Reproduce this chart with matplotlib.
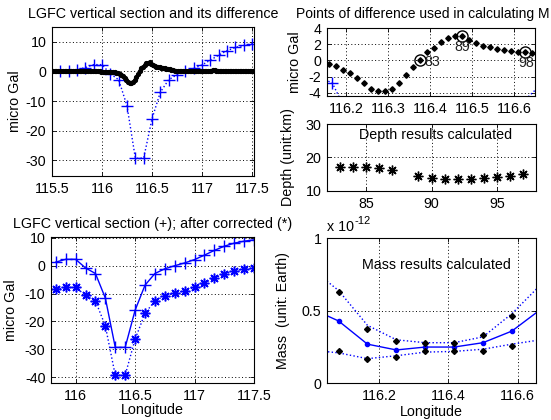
import matplotlib
matplotlib.use("Agg")
import matplotlib.pyplot as plt
import numpy as np
from matplotlib.ticker import FormatStrFormatter

plt.rcParams["font.family"] = ["Liberation Sans", "DejaVu Sans"]
plt.rcParams["font.size"] = 10.3
plt.rcParams["axes.unicode_minus"] = False

# ---- data ----
# gravity section (+), sampled every 5' starting at 115.5833
plus_lon = 115.5 + np.arange(1, 25) / 12
plus_vals = [0.0, 0.1, 0.6, 1.3, 2.3, 2.3, -0.8, -2.8, -11.6, -29.3, -29.3, -16.0,
             -7.0, -2.8, -1.1, 0.0, 1.0, 2.2, 3.8, 5.5, 7.0, 8.1, 8.8, 9.3]
# corrected section (*), from 115.8333 on
star_vals = [-8.4, -7.8, -7.8, -10.6, -12.6, -21.6, -39.3, -39.3, -26.4, -17.1, -12.6,
             -10.8, -9.8, -9.0, -7.8, -6.2, -4.4, -3.0, -1.8, -1.2, -0.8]

# difference, point numbers 30..151 (1' spacing)
diff_idx = np.arange(30, 152)
diff_vals = [0.0, 0.0, 0.0, 0.0, 0.0, 0.0, 0.0, 0.0, 0.0, 0.0,
             0.0, 0.0, 0.0, 0.0, 0.0, 0.0, 0.0, 0.0, 0.0, 0.0,
             0.0, 0.0, 0.0, 0.0, 0.0, 0.0, 0.0, 0.0, 0.0, 0.0,
             -0.05, -0.1, -0.15, -0.2, -0.25, -0.3, -0.3, -0.35, -0.35, -0.4,
             -0.43, -0.72, -1.13, -1.62, -2.15, -2.77, -3.5, -3.8, -3.8, -3.5,
             -2.77, -1.86, -0.84, 0.1, 1.0, 1.54, 2.27, 2.77, 2.97, 3.05,
             2.48, 2.15, 1.82, 1.66, 1.45, 1.33, 1.13, 1.0, 1.0, 0.92,
             0.8, 0.7, 0.55, 0.4, 0.25, 0.15, 0.1, 0.05, 0.0, 0.0,
             0.0, 0.0, 0.0, 0.0, 0.0, 0.0, 0.0, 0.0, 0.0, 0.0,
             0.0, 0.0, 0.0, 0.0, 0.1, 0.2, 0.3, 0.35, 0.35, 0.3,
             0.2, 0.1, 0.0, 0.0, 0.0, 0.0, 0.0, 0.0, 0.0, 0.0,
             0.0, 0.0, 0.0, 0.0, 0.0, 0.0, 0.0, 0.0, 0.0, 0.0,
             0.0, 0.0]
used_idx = [83, 89, 98]

# depth results
depth_idx = [83, 84, 85, 86, 87, 89, 90, 91, 92, 93, 94, 95, 96, 97]
depth_vals = [17.1, 17.1, 17.1, 16.9, 16.2, 14.6, 13.9, 13.7, 13.7, 13.7, 13.9, 14.3, 14.6, 15.0]

# mass results (x 1e-12 Earth)
mass_lon = 116.0 + np.arange(0, 9) / 12
mass_mid = [0.52, 0.43, 0.27, 0.23, 0.25, 0.25, 0.28, 0.36, 0.51]
mass_hi_curve = [0.80, 0.64, 0.40, 0.30, 0.28, 0.28, 0.32, 0.48, 0.68]
mass_lo_curve = [0.23, 0.21, 0.17, 0.19, 0.215, 0.22, 0.235, 0.27, 0.30]
mass_hi_pts = [0.63, 0.375, 0.29, 0.28, 0.28, 0.33, 0.465]
mass_lo_pts = [0.22, 0.165, 0.18, 0.22, 0.22, 0.22, 0.26]

diff_lon = 115 + (diff_idx - 0.5) / 60
diff_map = dict(zip(diff_idx, diff_vals))
ASTER = (8, 2, 0)


def matlab_axes(ax):
    ax.tick_params(direction="in", top=True, right=True, length=3, width=0.6, pad=4)
    for s in ax.spines.values():
        s.set_linewidth(0.8)
    ax.grid(True, color="k", linestyle=(0, (1, 2.5)), linewidth=0.7)
    ax.xaxis.set_major_formatter(FormatStrFormatter("%g"))
    ax.yaxis.set_major_formatter(FormatStrFormatter("%g"))


fig = plt.figure(figsize=(5.51, 4.2), dpi=100)
W, H = 551, 420


def add_ax(l, t, r, b):
    return fig.add_axes([l / W, 1 - b / H, (r - l) / W, (b - t) / H])


# top left: section and difference
ax1 = add_ax(52, 27, 254, 176)
matlab_axes(ax1)
ax1.plot(plus_lon, plus_vals, ":", color="b", lw=1)
ax1.plot(plus_lon, plus_vals, "+", color="b", ms=8, mew=1)
ax1.plot(diff_lon, diff_vals, ".", color="k", ms=5.5)
ax1.set_xlim(115.5, 117.52)
ax1.set_ylim(-35.3, 15)
ax1.set_xticks([115.5, 116, 116.5, 117, 117.5])
ax1.set_yticks([-30, -20, -10, 0, 10])
ax1.set_ylabel("micro Gal")
ax1.yaxis.set_label_coords(-0.15, 0.5)
ax1.set_title("LGFC vertical section and its difference", fontsize=10.3, pad=6.5)

# top right: zoom on difference points
ax2 = add_ax(327, 28, 535, 96)
matlab_axes(ax2)
ax2.plot(plus_lon, plus_vals, ":", color="b", lw=1)
ax2.plot(plus_lon, plus_vals, "+", color="b", ms=8, mew=1)
ax2.plot(diff_lon, diff_vals, "D", color="k", ms=2.8)
used_lon = [115 + (i - 0.5) / 60 for i in used_idx]
used_val = [diff_map[i] for i in used_idx]
ax2.plot(used_lon, used_val, "o", mfc="none", mec="k", ms=8, mew=1)
offsets = {83: ((3.5, -1.5), "left", "center"), 89: ((0, -3), "center", "top"),
           98: ((1, -2.5), "center", "top")}
for i, x, y in zip(used_idx, used_lon, used_val):
    off, ha, va = offsets[i]
    ax2.annotate(str(i), xy=(x, y), xytext=off, textcoords="offset points",
                 ha=ha, va=va, color="#222222")
ax2.set_xlim(116.154, 116.649)
ax2.set_ylim(-4.4, 4.0)
ax2.set_xticks([116.2, 116.3, 116.4, 116.5, 116.6])
ax2.set_yticks([-4, -2, 0, 2, 4])
ax2.set_ylabel("micro Gal")
ax2.yaxis.set_label_coords(-0.12, 0.5)
# title runs off the right edge in the original; keep it inside the figure
ax2.annotate("Points of difference used in calculating M", xy=(0, 1), xycoords="axes fraction",
             xytext=(-22.5, 7), textcoords="offset points", ha="left", va="baseline",
             fontsize=10)

# middle right: depth
ax3 = add_ax(327, 124, 536, 191)
matlab_axes(ax3)
ax3.plot(depth_idx, depth_vals, ls="none", marker=ASTER, color="k", ms=7, mew=1.0)
ax3.set_xlim(82, 98)
ax3.set_ylim(10, 30)
ax3.set_xticks([85, 90, 95])
ax3.set_yticks([10, 20, 30])
ax3.set_ylabel("Depth (unit:km)")
ax3.yaxis.set_label_coords(-0.153, 0.5)
ax3.text(90.3, 26.7, "Depth results calculated", ha="center", va="center")

# bottom left: section and corrected section
ax4 = add_ax(51, 237.3, 254, 383.3)
matlab_axes(ax4)
ax4.plot(plus_lon[3:], plus_vals[3:], "-", color="b", lw=1)
ax4.plot(plus_lon[3:], plus_vals[3:], "+", color="b", ms=8, mew=1)
ax4.plot(plus_lon[3:], star_vals, ":", color="b", lw=1)
ax4.plot(plus_lon[3:], star_vals, ls="none", marker=ASTER, color="b", ms=7, mew=1.1)
ax4.set_xlim(115.793, 117.5)
ax4.set_ylim(-42.2, 10.2)
ax4.set_xticks([116, 116.5, 117, 117.5])
ax4.set_yticks([-40, -30, -20, -10, 0, 10])
ax4.set_ylabel("micro Gal")
ax4.yaxis.set_label_coords(-0.163, 0.5)
ax4.set_xlabel("Longitude")
ax4.xaxis.set_label_coords(0.5, -0.135)
ax4.set_title("LGFC vertical section (+); after corrected (*)", fontsize=10.3, pad=6.5)

# bottom right: mass
ax5 = add_ax(327, 238.3, 536, 383.3)
matlab_axes(ax5)
ax5.plot(mass_lon, mass_hi_curve, ":", color="b", lw=1)
ax5.plot(mass_lon, mass_lo_curve, ":", color="b", lw=1)
ax5.plot(mass_lon, mass_mid, ".-", color="b", lw=1, ms=6)
ax5.plot(mass_lon[1:8], mass_hi_pts, "D", color="k", ms=3)
ax5.plot(mass_lon[1:8], mass_lo_pts, "D", color="k", ms=3)
ax5.set_xlim(116.05, 116.653)
ax5.set_ylim(0, 1)
ax5.set_xticks([116.2, 116.4, 116.6])
ax5.set_yticks([0, 0.5, 1])
ax5.set_ylabel("Mass  (unit: Earth)")
ax5.yaxis.set_label_coords(-0.177, 0.5)
ax5.set_xlabel("Longitude")
ax5.xaxis.set_label_coords(0.5, -0.15)
ax5.text(116.366, 0.816, "Mass results calculated", ha="center", va="center")
ax5.annotate("x 10", xy=(0, 1), xycoords="axes fraction", xytext=(0, 3),
             textcoords="offset points", ha="left", va="bottom")
ax5.annotate("-12", xy=(0, 1), xycoords="axes fraction", xytext=(20, 9),
             textcoords="offset points", ha="left", va="bottom", fontsize=8)

fig.savefig("out.png", dpi=100, facecolor="white")
plt.close(fig)
